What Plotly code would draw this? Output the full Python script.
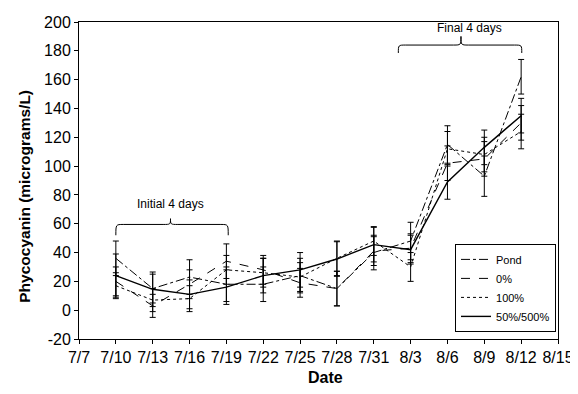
import plotly.graph_objects as go

# ---- data ----
date_labels = ["7/7", "7/10", "7/13", "7/16", "7/19", "7/22", "7/25", "7/28",
               "7/31", "8/3", "8/6", "8/9", "8/12", "8/15"]
tick_days = [0, 3, 6, 9, 12, 15, 18, 21, 24, 27, 30, 33, 36, 39]
sample_days = [3, 6, 9, 12, 15, 18, 21, 24, 27, 30, 33, 36]
y_ticks = [-20, 0, 20, 40, 60, 80, 100, 120, 140, 160, 180, 200]
y_tick_labels = ["-20", "0", "20", "40", "60", "80", "100", "120", "140",
                 "160", "180", "200"]

pond = [36, 15, 23, 18, 18, 24, 15, 40, 48, 115, 93, 162]
pond_err = [12, 10, 12, 12, 12, 12, 12, 12, 13, 13, 14, 12]

zero = [20, 3, 18, 34, 28, 19, 15, 41, 43, 102, 105, 130]
zero_err = [10, 8, 10, 12, 10, 10, 12, 10, 10, 12, 12, 12]

hundred = [17, 7, 8, 28, 26, 23, 36, 48, 30, 112, 108, 124]
hundred_err = [9, 8, 9, 10, 10, 10, 12, 10, 10, 12, 12, 12]

fifty = [24, 14.5, 11, 16, 24, 28, 35.5, 45.5, 42, 89, 113, 135]
fifty_err = [15, 12, 10, 12, 12, 12, 12, 12, 10, 12, 12, 12]

series = [
    ("Pond", pond, pond_err, "dashdot", 1),
    ("0%", zero, zero_err, "dash", 1),
    ("100%", hundred, hundred_err, "dot", 1),
    ("50%/500%", fifty, fifty_err, "solid", 1.4),
]

FONT = "Liberation Sans, Arial, sans-serif"

fig = go.Figure()
for name, vals, errs, dash, w in series:
    fig.add_trace(go.Scatter(
        x=sample_days, y=vals, name=name, mode="lines",
        line=dict(color="black", width=w, dash=dash),
        error_y=dict(type="data", array=errs, visible=True,
                     color="black", thickness=1, width=3),
    ))


def brace(x0, x1, xm, y_end, y_top, y_peak, r):
    return (f"M {x0},{y_end} C {x0},{y_top} {x0},{y_top} {x0 + r},{y_top} "
            f"L {xm - r},{y_top} C {xm},{y_top} {xm},{y_top} {xm},{y_peak} "
            f"C {xm},{y_top} {xm},{y_top} {xm + r},{y_top} "
            f"L {x1 - r},{y_top} C {x1},{y_top} {x1},{y_top} {x1},{y_end}")


fig.add_shape(type="path", xref="x", yref="y",
              path=brace(3.0, 12.15, 7.45, 52, 59.5, 63.5, 0.6),
              line=dict(color="black", width=1))
fig.add_shape(type="path", xref="x", yref="y",
              path=brace(26.0, 36.05, 31.1, 178.5, 184, 190, 0.6),
              line=dict(color="black", width=1))

fig.add_annotation(x=7.45, y=74, xref="x", yref="y", text="Initial 4 days",
                   showarrow=False, font=dict(family=FONT, size=12, color="black"))
fig.add_annotation(x=31.8, y=195.5, xref="x", yref="y", text="Final 4 days",
                   showarrow=False, font=dict(family=FONT, size=12, color="black"))

# axis titles as annotations (fixed positions)
fig.add_annotation(x=-0.114, y=0.45, xref="paper", yref="paper",
                   text="<b>Phycocyanin (micrograms/L)</b>", textangle=-90,
                   showarrow=False, xanchor="center", yanchor="middle",
                   font=dict(family=FONT, size=15.5, color="black"))
fig.add_annotation(x=0.514, y=-0.123, xref="paper", yref="paper",
                   text="<b>Date</b>", showarrow=False,
                   xanchor="center", yanchor="middle",
                   font=dict(family=FONT, size=16, color="black"))

fig.update_layout(
    width=570, height=386,
    margin=dict(l=71, r=20, t=14, b=55),
    paper_bgcolor="white", plot_bgcolor="white",
    font=dict(family=FONT, color="black"),
    showlegend=True,
    legend=dict(x=0.785, y=0.30, xanchor="left", yanchor="top",
                bordercolor="black", borderwidth=1, bgcolor="white",
                font=dict(family=FONT, size=11), itemwidth=30,
                tracegroupgap=0),
)

fig.update_xaxes(
    range=[0, 39], tickvals=tick_days, ticktext=date_labels,
    showline=True, linecolor="black", linewidth=1, mirror=True,
    ticks="outside", ticklen=4, tickcolor="black",
    showgrid=False, zeroline=False, automargin=False,
    tickfont=dict(family=FONT, size=16),
)
fig.update_yaxes(
    range=[-20, 200], tickvals=y_ticks, ticktext=y_tick_labels,
    showline=True, linecolor="black", linewidth=1, mirror=True,
    ticks="outside", ticklen=4, tickcolor="black",
    showgrid=False, zeroline=False, automargin=False,
    tickfont=dict(family=FONT, size=16),
)

fig.write_html("out.html")
